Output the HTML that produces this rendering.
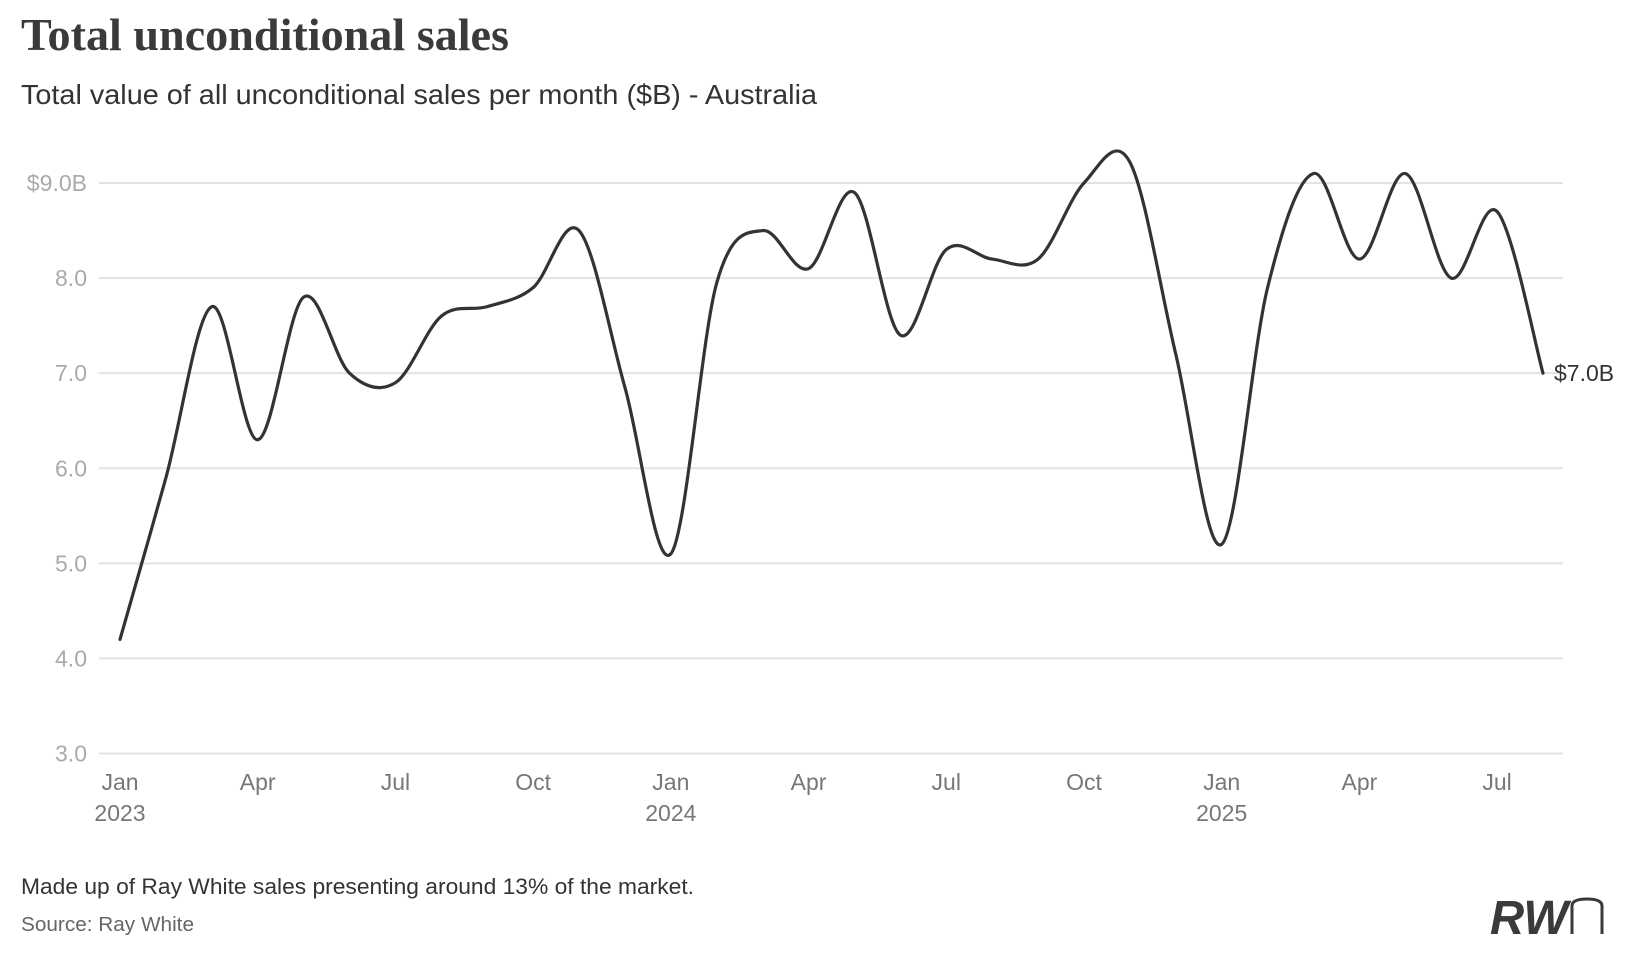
<!DOCTYPE html>
<html><head><meta charset="utf-8"><style>
html,body{margin:0;padding:0;background:#fff;}
svg{display:block;}
text{font-family:"Liberation Sans",sans-serif;}
</style></head><body>
<svg id="chart" width="1640" height="956" viewBox="0 0 1640 956">
<text x="21" y="50" style="font-family:'Liberation Serif',serif" font-weight="bold" font-size="46" fill="#3a3a3a" textLength="488" lengthAdjust="spacingAndGlyphs">Total unconditional sales</text>
<text x="21" y="104" font-size="28" fill="#333" textLength="796" lengthAdjust="spacingAndGlyphs">Total value of all unconditional sales per month ($B) - Australia</text>
<g id="grid"></g><g id="yt"></g><g id="xt"></g><g id="series"></g>
<text x="21" y="894" font-size="22" fill="#333" textLength="673" lengthAdjust="spacingAndGlyphs">Made up of Ray White sales presenting around 13% of the market.</text>
<text x="21" y="931" font-size="20" fill="#666" textLength="173" lengthAdjust="spacingAndGlyphs">Source: Ray White</text>
<g>
<text x="1490" y="934" font-size="48" font-weight="bold" font-style="italic" fill="#3a3a3a" textLength="78" lengthAdjust="spacingAndGlyphs">RW</text>
<path d="M1572 934 V906 Q1572 899 1587 899 Q1602 899 1602 906 V934" fill="none" stroke="#3a3a3a" stroke-width="3"/>
</g>
</svg>
<script>
const months = ["Jan","Feb","Mar","Apr","May","Jun","Jul","Aug","Sep","Oct","Nov","Dec"];
const startYear = 2023;
const values = [4.2,5.9,7.7,6.3,7.8,7.0,6.9,7.6,7.7,7.9,8.5,6.85,
                5.1,7.95,8.5,8.1,8.9,7.4,8.3,8.2,8.2,9.0,9.22,7.2,
                5.2,7.9,9.1,8.2,9.1,8.0,8.7,7.0];
const yTicks = [3,4,5,6,7,8,9];
const yTickLabels = ["3.0","4.0","5.0","6.0","7.0","8.0","$9.0B"];
const xTickIdx = [0,3,6,9,12,15,18,21,24,27,30];
const NS="http://www.w3.org/2000/svg";
const x = i => 120 + i*(1543-120)/31;
const y = v => 753.5 - (v-3)*95.08;
function mk(tag, attrs, parent, txt){const e=document.createElementNS(NS,tag);for(const k in attrs)e.setAttribute(k,attrs[k]);if(txt!==undefined)e.textContent=txt;parent.appendChild(e);return e;}
const grid=document.getElementById('grid'), yt=document.getElementById('yt'), xt=document.getElementById('xt'), ser=document.getElementById('series');
yTicks.forEach((t,i)=>{
  const l=mk('line',{x1:99,x2:1563,y1:y(t),y2:y(t),stroke:'#e3e3e3','stroke-width':2},grid);
  
  
  const tx=mk('text',{x:87,y:y(t)+8,'text-anchor':'end','font-size':23,fill:'#aaa'},yt,yTickLabels[i]);
  
  
});
xTickIdx.forEach(i=>{
  const m=months[i%12];
  const tx=mk('text',{x:x(i),y:790,'text-anchor':'middle','font-size':23,fill:'#777'},xt,m);
  
  
  if(i%12===0){
    const yr=mk('text',{x:x(i),y:821,'text-anchor':'middle','font-size':23,fill:'#777'},xt,String(startYear+i/12));
    
    
  }
});
const pts=values.map((v,i)=>[x(i),y(v)]);
let d='M'+pts[0][0]+','+pts[0][1];
for(let i=0;i<pts.length-1;i++){
  const p0=pts[Math.max(0,i-1)],p1=pts[i],p2=pts[i+1],p3=pts[Math.min(pts.length-1,i+2)];
  const c1=[p1[0]+(p2[0]-p0[0])/6,p1[1]+(p2[1]-p0[1])/6];
  const c2=[p2[0]-(p3[0]-p1[0])/6,p2[1]-(p3[1]-p1[1])/6];
  d+=` C${c1[0]},${c1[1]} ${c2[0]},${c2[1]} ${p2[0]},${p2[1]}`;
}
const path=mk('path',{d:d,fill:'none',stroke:'#333','stroke-width':3.2,'stroke-linejoin':'round','stroke-linecap':'round'},ser);


const last=values[values.length-1];
const el=mk('text',{x:x(values.length-1)+11,y:y(last)+8,'font-size':23,fill:'#333'},ser,'$'+last.toFixed(1)+'B');


</script>
</body></html>
